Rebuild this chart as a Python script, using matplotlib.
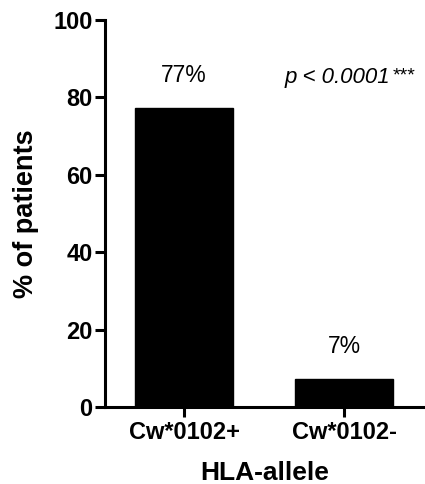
import matplotlib
matplotlib.use("Agg")
import matplotlib.pyplot as plt

categories = ["Cw*0102+", "Cw*0102-"]
values = [77.3, 7.2]
labels = ["77%", "7%"]
yticks = [0, 20, 40, 60, 80, 100]
p_text = "p < 0.0001"
stars = "***"

plt.rcParams['font.family'] = ['Liberation Sans', 'DejaVu Sans']

fig = plt.figure(figsize=(4.25, 4.84), dpi=100)
ax = fig.add_axes([105/425, 1 - 407/484, 1 - 105/425, (407 - 20)/484])

x = list(range(len(categories)))
ax.bar(x, values, width=0.61, color='black', edgecolor='black')
ax.set_xlim(-0.494, 1.506)
ax.set_ylim(0, 100)
ax.set_yticks(yticks)
ax.set_xticks(x)
ax.set_xticklabels(categories, fontsize=17, fontweight='bold')
ax.set_yticklabels([str(t) for t in yticks], fontsize=17, fontweight='bold')
for s in ['top', 'right']:
    ax.spines[s].set_visible(False)
for s in ['left', 'bottom']:
    ax.spines[s].set_linewidth(2.2)
ax.tick_params(axis='y', width=2.2, length=7, pad=2)
ax.tick_params(axis='x', width=2.2, length=7, pad=3)
ax.set_ylabel("% of patients", fontsize=19.5, fontweight='bold', labelpad=10)
ax.set_xlabel("HLA-allele", fontsize=19, fontweight='bold', labelpad=12)

for xi, v, lab in zip(x, values, labels):
    ax.text(xi, v + 6.7, lab, ha='center', va='baseline', fontsize=16.5)

ax.text(0.63, 83.7, p_text, fontsize=16, style='italic', ha='left', va='baseline')
ax.text(1.305, 84.3, stars, fontsize=14, ha='left', va='baseline')

fig.savefig("out.png", dpi=100)
